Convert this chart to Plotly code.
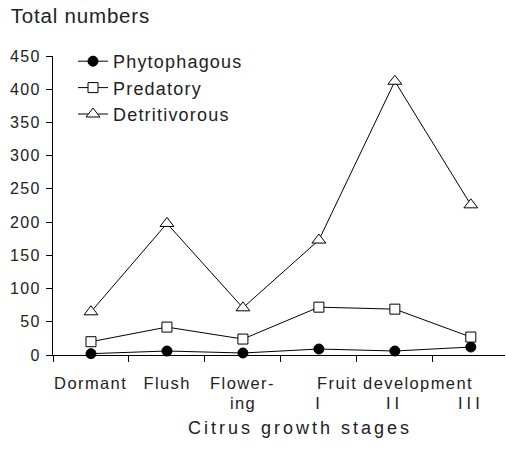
import plotly.graph_objects as go

stages = ["Dormant", "Flush", "Flowering", "Fruit I", "Fruit II", "Fruit III"]
stage_pos = [0.5, 1.5, 2.5, 3.5, 4.5, 5.5]
phytophagous = [2, 6, 3, 9, 6, 12]
predatory = [20, 42, 24, 72, 69, 27]
detritivorous = [65, 198, 71, 173, 412, 226]
y_ticks = [0, 50, 100, 150, 200, 250, 300, 350, 400, 450]

FONT = "Liberation Sans, Arial, sans-serif"
INK = "#222222"

fig = go.Figure()
series = [
    ("Phytophagous", phytophagous, "circle", 10, "black"),
    ("Predatory", predatory, "square", 10, "white"),
    ("Detritivorous", detritivorous, "triangle-up", 12, "white"),
]
for i, (name, vals, sym, size, fill) in enumerate(series):
    fig.add_trace(go.Scatter(
        x=stage_pos, y=vals, name=name, mode="lines+markers",
        legendgroup=f"g{i}",
        line=dict(color="black", width=1),
        marker=dict(symbol=sym, size=size, color=fill,
                    line=dict(color="black", width=1)),
        cliponaxis=False,
    ))

W, H = 506, 458
ml, mr, mt, mb = 53, 1, 56, 103
pw, ph = W - ml - mr, H - mt - mb

def py(pix):
    return (H - mb - pix) / ph

def px(pix):
    return (pix - ml) / pw

ann = []
ann.append(dict(text="Total numbers", x=px(14), y=py(15), xref="paper", yref="paper",
                xanchor="left", yanchor="middle", showarrow=False,
                font=dict(size=20.5, family=FONT, color=INK)))
row1 = [("Dormant", stage_pos[0]), ("Flush", stage_pos[1]), ("Flower-", stage_pos[2]),
        ("Fruit development", stage_pos[4])]
row2 = [("ing", stage_pos[2]), ("I", stage_pos[3]), ("II", stage_pos[4]), ("III", stage_pos[5])]
for t, x in row1:
    ann.append(dict(text=t, x=x, y=py(383), xref="x", yref="paper", xanchor="center",
                    yanchor="middle", showarrow=False,
                    font=dict(size=16.5, family=FONT, color=INK)))
for t, x in row2:
    ann.append(dict(text=t, x=x, y=py(403), xref="x", yref="paper", xanchor="center",
                    yanchor="middle", showarrow=False,
                    font=dict(size=16.5, family=FONT, color=INK)))
ann.append(dict(text="Citrus growth stages", x=px(300), y=py(428), xref="paper", yref="paper",
                xanchor="center", yanchor="middle", showarrow=False,
                font=dict(size=18, family=FONT, color=INK)))

fig.update_layout(
    width=W, height=H,
    margin=dict(l=ml, r=mr, t=mt, b=mb),
    paper_bgcolor="white", plot_bgcolor="white",
    font=dict(family=FONT, color=INK),
    showlegend=True,
    legend=dict(x=px(73), y=py(43), xanchor="left", yanchor="top",
                font=dict(size=18, family=FONT, color=INK),
                bgcolor="rgba(0,0,0,0)", tracegroupgap=0, itemwidth=30),
    annotations=ann,
    xaxis=dict(range=[0, 5.95], tickvals=[0, 1, 2, 3, 4, 5], showticklabels=False,
               ticks="outside", ticklen=6, tickcolor="black", tickwidth=1.3,
               showline=True, linecolor="black", linewidth=1.3,
               showgrid=False, zeroline=False),
    yaxis=dict(range=[0, 450], tickvals=y_ticks, ticks="outside", ticklen=6,
               tickcolor="black", tickwidth=1.3, showline=True, linecolor="black",
               linewidth=1.3, showgrid=False, zeroline=False,
               tickfont=dict(size=16, family=FONT, color=INK), ticklabelstandoff=2),
)

css = """
document.body.style.margin='0';
document.body.style.padding='0';
var s=document.createElement('style');
s.innerHTML='body{margin:0!important}.ytick text{letter-spacing:1.3px}.legendtext{letter-spacing:1.2px}.annotation-text{letter-spacing:1.4px}';
document.head.appendChild(s);
document.querySelectorAll('.legend, .legend *').forEach(function(e){e.removeAttribute('clip-path');});
var a=document.querySelectorAll('.annotation-text');
a.forEach(function(t){
 if(t.textContent==='Citrus growth stages'){t.style.letterSpacing='3px';}
 if(t.textContent==='Total numbers'){t.style.letterSpacing='0.8px';}
 if(t.textContent==='II'||t.textContent==='III'){t.style.letterSpacing='4px';}});
"""
fig.write_html("out.html", post_script=css, config={"displayModeBar": False})
